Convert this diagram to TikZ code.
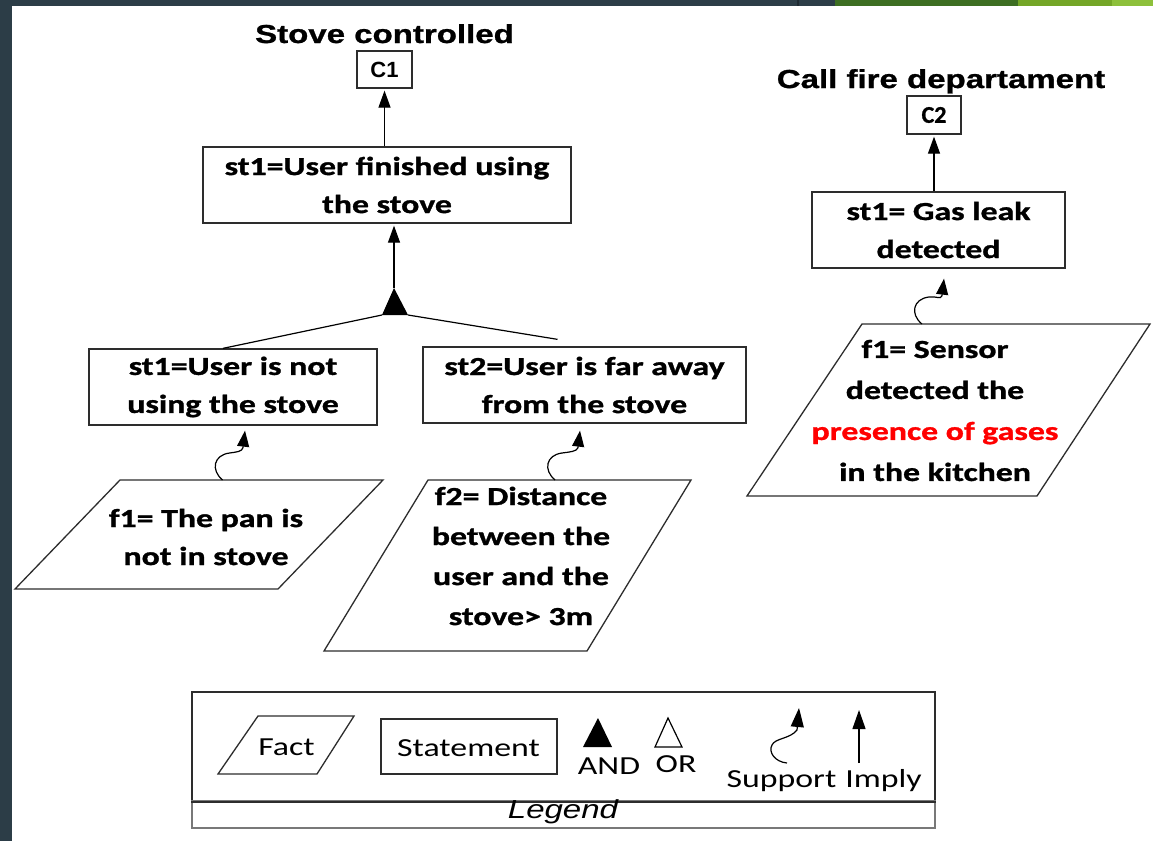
\documentclass[tikz,border=0pt]{standalone}
\usepackage{fontspec}
\usetikzlibrary{arrows.meta,calc}
\newfontfamily\carl[FakeStretch=1.3, BoldFeatures={FakeBold=1.2}]{Carlito}
\newfontfamily\carlN[BoldFeatures={FakeBold=1}]{Carlito}
\newfontfamily\arl[FakeStretch=1.27, BoldFeatures={FakeBold=1}]{Liberation Sans}
\newfontfamily\arlN{Liberation Sans}
\definecolor{slate}{RGB}{44,61,71}
\definecolor{slateD}{RGB}{30,42,50}
\definecolor{grnA}{RGB}{61,110,34}
\definecolor{grnB}{RGB}{116,166,39}
\definecolor{grnC}{RGB}{141,192,59}
\definecolor{linec}{RGB}{45,45,45}
\definecolor{legc}{RGB}{120,120,120}
\newcommand\bodyfont{\carl\bfseries\fontsize{26}{38}\selectfont}
\newcommand\legfont{\carl\fontsize{26}{30}\selectfont}
\newcommand\supportcurve[2]{%
  \draw[suppline] (#1) .. controls ($(#1)+(-12,-10)$) and ($(#1)+(-9,-25)$) .. ($(#1)+(7,-27)$)
     .. controls ($(#1)+(14,-28)$) and ($(#2)+(-3,21)$) .. ($(#2)+(-2,17)$) -- (#2);}
\begin{document}
\begin{tikzpicture}[x=1pt,y=-1pt,
  stmt/.style={draw=linec, line width=1.3pt, inner sep=0pt, font=\bodyfont, align=center},
  factshape/.style={draw=linec, line width=1.3pt},
  facttext/.style={inner sep=0pt, font=\bodyfont, align=center},
  cbox/.style={draw=linec, line width=1.3pt, inner sep=0pt},
  title/.style={anchor=base, inner sep=0pt, font=\arl\bfseries\fontsize{26}{30}\selectfont},
  imply/.style={draw=black, line width=1.2pt, -{Triangle[length=17pt,width=12pt]}, shorten >=2pt},
  suppline/.style={draw=black, line width=1.2pt, -{Triangle[length=16pt,width=12pt]}},
  tree/.style={draw=black, line width=1.2pt},
  legtext/.style={anchor=base, inner sep=0pt, font=\legfont},
  legarrow/.style={draw=black, line width=1.2pt, -{Triangle[length=19pt,width=13pt]}}
]
\useasboundingbox (0,0) rectangle (1153,841);
\fill[white] (0,0) rectangle (1153,841);
% slide frame
\fill[slate] (0,0) rectangle (12,841);
\fill[slate] (0,0) rectangle (835,6);
\fill[slateD] (797,0) rectangle (799,6);
\fill[grnA] (835,0) rectangle (1018,6);
\fill[grnB] (1018,0) rectangle (1112,6);
\fill[grnC] (1112,0) rectangle (1153,6);

% ---- left tree
\node[title] (t1) at (384.5,43) {Stove controlled};
\node[cbox, minimum width=55pt, minimum height=37pt, font=\arlN\bfseries\fontsize{22}{24}\selectfont] (c1) at (384.5,69.5) {C1};
\node[stmt, minimum width=368pt, minimum height=76pt] (s0) at (387,185) {st1=User finished using\\the stove};
\coordinate (andA) at (394,288);
\coordinate (andL) at (382,315);
\coordinate (andR) at (408,315);
\fill[black] (andA) -- (andL) -- (andR) -- cycle;
\node[stmt, minimum width=288pt, minimum height=76pt] (s1) at (233,387) {st1=User is not\\using the stove};
\node[stmt, minimum width=323pt, minimum height=76pt] (s2) at (584.5,385) {st2=User is far away\\from the stove};

\coordinate (f1tl) at (120,480); \coordinate (f1tr) at (383,480);
\coordinate (f1br) at (278,589); \coordinate (f1bl) at (15,589);
\draw[factshape] (f1tl) -- (f1tr) -- (f1br) -- (f1bl) -- cycle;
\node[facttext] (f1) at (206,537) {f1= The pan is\\not in stove};

\coordinate (f2tl) at (428,480); \coordinate (f2tr) at (691,480);
\coordinate (f2br) at (587,651); \coordinate (f2bl) at (324,651);
\draw[factshape] (f2tl) -- (f2tr) -- (f2br) -- (f2bl) -- cycle;
\node[facttext, font=\carl\bfseries\fontsize{26}{40}\selectfont] (f2) at (521,556) {f2= Distance\\between the\\user and the\\stove> 3m};

\draw[imply] (s0.north -| c1) -- (c1.south);
\draw[imply] (andA) -- (andA |- s0.south);
\coordinate (s1in) at ($(s1.north)+(-10,0)$);
\coordinate (s2in) at ($(s2.north)+(-27,-7)$);
\draw[tree] (andL) -- (s1in);
\draw[tree] (andR) -- (s2in);
\coordinate (sp1) at ($(f1tl)!0.39!(f1tr)$);
\coordinate (tp1) at ($(s1.south)+(12,5)$);
\supportcurve{sp1}{tp1}
\coordinate (sp2) at ($(f2tl)!0.483!(f2tr)$);
\coordinate (tp2) at ($(s2.south)+(-4.5,7)$);
\supportcurve{sp2}{tp2}

% ---- right tree
\node[title] (t2) at (941,88) {Call fire departament};
\node[cbox, minimum width=54pt, minimum height=38pt, font=\carlN\bfseries\fontsize{24}{26}\selectfont] (c2) at (934,115) {C2};
\node[stmt, minimum width=253pt, minimum height=76pt] (g1) at (938.5,230) {st1= Gas leak\\detected};
\coordinate (f3tl) at (862,324); \coordinate (f3tr) at (1150,324);
\coordinate (f3br) at (1037,496); \coordinate (f3bl) at (747,496);
\draw[factshape] (f3tl) -- (f3tr) -- (f3br) -- (f3bl) -- cycle;
\node[facttext, font=\carl\bfseries\fontsize{26}{41}\selectfont] (f3) at (935,410.5) {f1= Sensor\\detected the\\{\color{red}presence of gases}\\in the kitchen};
\draw[imply] (g1.north -| c2) -- (c2.south);
\coordinate (sp3) at ($(f3tl)!0.208!(f3tr)$);
\coordinate (tp3) at ($(g1.south)+(5.5,10)$);
\supportcurve{sp3}{tp3}

% ---- legend
\node[draw=linec, line width=1.5pt, minimum width=743pt, minimum height=109pt, inner sep=0pt] (leg) at (563.5,746.5) {};
\node[draw=legc, line width=1.2pt, minimum width=743pt, minimum height=27pt, inner sep=0pt] (legb) at (563.5,814.5) {};
\draw[linec, line width=1.5pt] (leg.south west) -- (leg.south east);
\node[anchor=base, inner sep=0pt, font=\arl\itshape\fontsize{26}{30}\selectfont] (legcap) at (563,818) {Legend};

\coordinate (lf1) at (258,716); \coordinate (lf2) at (354,716);
\coordinate (lf3) at (317,774); \coordinate (lf4) at (218,774);
\draw[factshape] (lf1) -- (lf2) -- (lf3) -- (lf4) -- cycle;
\node[legtext] (lfact) at (286.5,755) {Fact};
\node[draw=linec, line width=1.3pt, minimum width=176pt, minimum height=55pt, inner sep=0pt] (lstmtbox) at (469,746.5) {};
\node[legtext] (lstmt) at (468.5,756) {Statement};
\coordinate (la1) at (598,718); \coordinate (la2) at (583,747); \coordinate (la3) at (612,747);
\fill[black] (la1) -- (la2) -- (la3) -- cycle;
\node[legtext] (land) at (609,774) {AND};
\coordinate (lo1) at (668,718); \coordinate (lo2) at (655,747); \coordinate (lo3) at (682,747);
\draw[black, line width=1.2pt, line join=miter] (lo1) -- (lo2) -- (lo3) -- cycle;
\node[legtext] (lor) at (676,772) {OR};
\coordinate (lsS) at (787,763); \coordinate (lsT) at (799,708);
\draw[legarrow] (lsS) .. controls (775,762) and (768,752) .. (772,745) .. controls (775,738) and (790,739) .. (797,730) -- (lsT);
\node[legtext] (lsup) at (781.5,787) {Support};
\coordinate (liS) at (859,763); \coordinate (liT) at (859,710);
\draw[legarrow] (liS) -- (liT);
\node[legtext] (limp) at (883.5,787) {Imply};
\end{tikzpicture}
\end{document}
